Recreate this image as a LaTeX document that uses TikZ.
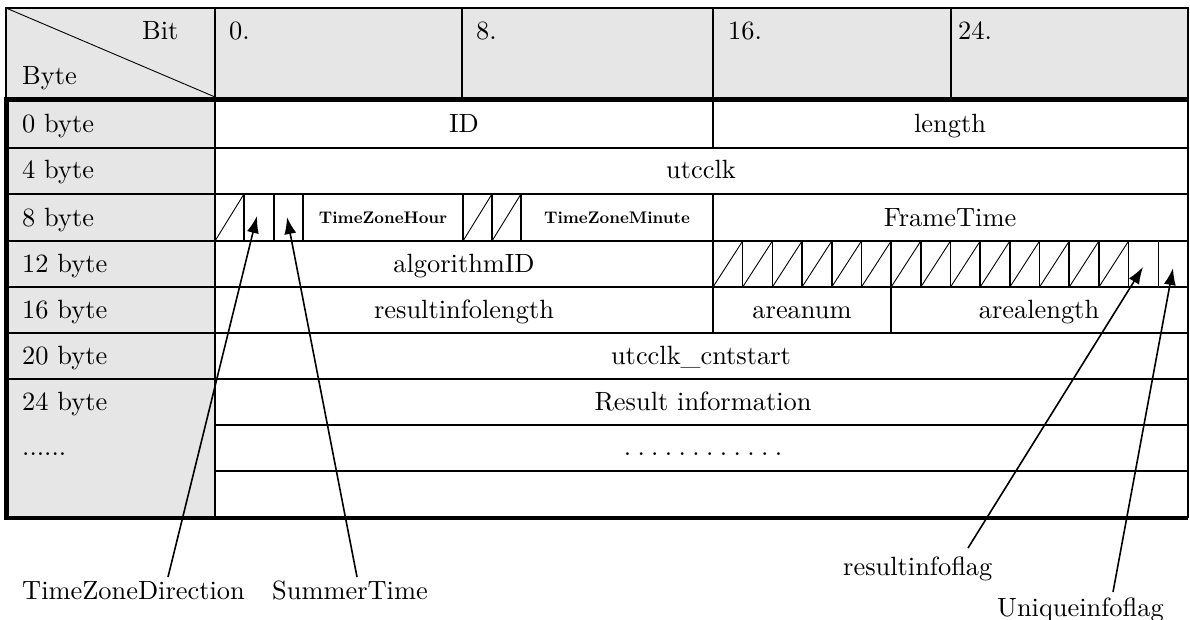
\documentclass[tikz,border=0pt]{standalone}
\usepackage{fontspec}
\setmainfont{lmroman10-regular.otf}[BoldFont=lmroman10-bold.otf]
\usetikzlibrary{arrows.meta}
\definecolor{hdrgray}{RGB}{230,230,230}
\begin{document}
\begin{tikzpicture}[x=1pt,y=-1pt,
  txt/.style={font=\fontsize{26.4}{30}\selectfont, inner sep=0pt},
  sm/.style={font=\fontsize{16.8}{20}\selectfont\bfseries, inner sep=0pt},
  thin/.style={line width=1.6pt},
  thick border/.style={line width=4.6pt},
  hatch/.style={line width=0.9pt},
  pointer/.style={line width=1.6pt, -{Latex[length=17pt,width=12pt]}}
]
\useasboundingbox (0,0) rectangle (1190,620);
% fills
\fill[hdrgray] (6,8) rectangle (1188,99);
\fill[hdrgray] (6,99) rectangle (215,518);
% header
\draw[thin] (6,99) -- (6,8) -- (1188,8) -- (1188,99);
\draw[thin] (215,8) -- (215,99);
\draw[thin] (462,8) -- (462,99);
\draw[thin] (713,8) -- (713,99);
\draw[thin] (951,8) -- (951,99);
\draw[line width=0.9pt] (6,8) -- (215,97);
\node[txt, anchor=base west] (bit) at (142,40) {Bit};
\node[txt, anchor=base west] (byte) at (22,85) {Byte};
\node[txt, anchor=base west] (b0) at (229,40) {0.};
\node[txt, anchor=base west] (b8) at (476,40) {8.};
\node[txt, anchor=base west] (b16) at (728,40) {16.};
\node[txt, anchor=base west] (b24) at (958,40) {24.};
% grid lines
\draw[thin] (1188,99) -- (1188,518);
\draw[thin] (215,99) -- (215,518);
\foreach \y in {148,194,241,287,333,379} \draw[thin] (6,\y) -- (1188,\y);
\foreach \y in {425,471} \draw[thin] (215,\y) -- (1188,\y);
% row 0
\draw[thin] (713,99) -- (713,148);
% row 8
\foreach \x in {244,274,303,463,492,521,713} \draw[thin] (\x,194) -- (\x,241);
\foreach \x/\w in {215/244,463/492,492/521} \draw[hatch] (\x,241) -- (\w,194);
% row 12
\draw[thin] (713,241) -- (713,287);
\foreach \k in {1,...,15} \draw[thin] ({713+29.6875*\k},241) -- ({713+29.6875*\k},287);
\foreach \k in {0,...,13} \draw[hatch] ({713+29.6875*\k},287) -- ({713+29.6875*(\k+1)},241);
% row 16
\draw[thin] (713,287) -- (713,333);
\draw[thin] (891,287) -- (891,333);
% thick border
\draw[thick border] (1188,99.5) -- (6.5,99.5) -- (6.5,518) -- (1188,518);
% row labels
\node[txt, anchor=base west] (r0) at (22,133) {0 byte};
\node[txt, anchor=base west] (r4) at (22,179) {4 byte};
\node[txt, anchor=base west] (r8) at (22,226) {8 byte};
\node[txt, anchor=base west] (r12) at (22,272) {12 byte};
\node[txt, anchor=base west] (r16) at (22,318) {16 byte};
\node[txt, anchor=base west] (r20) at (22,364) {20 byte};
\node[txt, anchor=base west] (r24) at (22,410) {24 byte};
\node[txt, anchor=base west] (rdots) at (22,455) {......};
% field labels
\node[txt, anchor=base] (id) at (464,133) {ID};
\node[txt, anchor=base] (len) at (950,133) {length};
\node[txt, anchor=base] (utc) at (701,179) {utcclk};
\node[sm, anchor=base] (tzh) at (383,224) {TimeZoneHour};
\node[sm, anchor=base] (tzm) at (617,224) {TimeZoneMinute};
\node[txt, anchor=base] (ft) at (950,226) {FrameTime};
\node[txt, anchor=base] (alg) at (464,272) {algorithmID};
\node[txt, anchor=base] (ril) at (464,318) {resultinfolength};
\node[txt, anchor=base] (an) at (802,318) {areanum};
\node[txt, anchor=base] (al) at (1039,318) {arealength};
\node[txt, anchor=base] (ucs) at (701,364) {utcclk\_cntstart};
\node[txt, anchor=base] (ri) at (703,410) {Result information};
\node[txt, anchor=base] (dots) at (703,455) {.\hspace{6.4pt}.\hspace{6.4pt}.\hspace{6.4pt}.\hspace{6.4pt}.\hspace{6.4pt}.\hspace{6.4pt}.\hspace{6.4pt}.\hspace{6.4pt}.\hspace{6.4pt}.\hspace{6.4pt}.\hspace{6.4pt}.};
% bottom labels
\node[txt, anchor=base west] (tzd) at (22,599) {TimeZoneDirection};
\node[txt, anchor=base west] (st) at (272,599) {SummerTime};
\node[txt, anchor=base west] (rif) at (843,575) {resultinfoflag};
\node[txt, anchor=base west] (uif) at (997,616) {Uniqueinfoflag};
% pointer coordinates
\coordinate (tzdTail) at (168,577);
\coordinate (tzdTip) at (257,216);
\coordinate (stTail) at (357,577);
\coordinate (stTip) at (287,217);
\coordinate (rifTail) at (968,548);
\coordinate (rifTip) at (1143,267);
\coordinate (uifTail) at (1113,592);
\coordinate (uifTip) at (1173,268);
\draw[pointer] (tzdTail) -- (tzdTip);
\draw[pointer] (stTail) -- (stTip);
\draw[pointer] (rifTail) -- (rifTip);
\draw[pointer] (uifTail) -- (uifTip);
\end{tikzpicture}
\end{document}
